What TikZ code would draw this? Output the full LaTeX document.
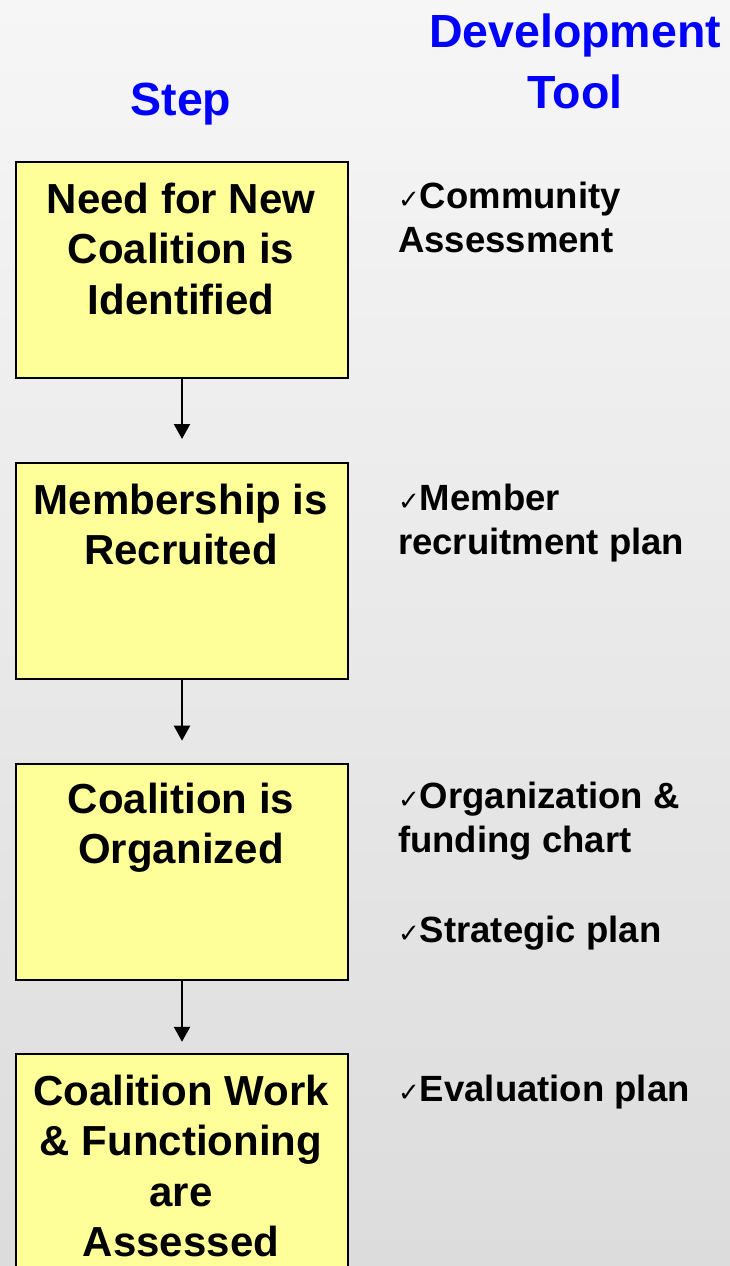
\documentclass[tikz,border=0pt]{standalone}
\usepackage{fontspec}
\setmainfont{Liberation Sans}
\newfontfamily\symfont{DejaVu Sans}
\usetikzlibrary{arrows.meta}
\definecolor{boxyellow}{HTML}{FFFF99}
\definecolor{titleblue}{HTML}{0000FF}
\definecolor{bgtop}{HTML}{F6F6F6}
\definecolor{bgbot}{HTML}{DCDCDC}
\tikzset{
  stepbox/.style={draw=black, line width=2pt, fill=boxyellow, minimum width=332pt, minimum height=216pt, anchor=north west, inner sep=0pt},
  boxtext/.style={anchor=north, align=center, inner sep=0pt, font=\fontsize{42}{50.5}\selectfont\bfseries},
  coltitle/.style={text=titleblue, inner sep=0pt, anchor=base, font=\fontsize{46.5}{57}\selectfont\bfseries},
  tooltext/.style={anchor=north west, align=left, inner sep=0pt, font=\fontsize{36.5}{44}\selectfont\bfseries},
  flow/.style={line width=2.2pt, -{Triangle[width=16pt,length=15pt]}},
}
\newcommand{\tick}{{\symfont\fontsize{26}{26}\selectfont ✓}}
\begin{document}
\begin{tikzpicture}[x=1pt,y=-1pt]
  \useasboundingbox (0,0) rectangle (730,1266);
  \clip (0,0) rectangle (730,1266);
  \shade[top color=bgtop, bottom color=bgbot] (0,0) rectangle (730,1266);

  % column titles
  \node[coltitle] (tstep) at (181,115) {Step};
  \node[coltitle] (tdev) at (575,47) {Development};
  \node[coltitle] (ttool) at (575,108) {Tool};

  % step boxes
  \node[stepbox] (b1) at (15,160.7) {};
  \node[stepbox] (b2) at (15,462) {};
  \node[stepbox] (b3) at (15,762.7) {};
  \node[stepbox, minimum height=260pt] (b4) at (15,1053.3) {};

  \node[boxtext] (s1) at (181,182.5) {Need for New\\Coalition is\\Identified};
  \node[boxtext] (s2) at (181,483.5) {Membership is\\Recruited};
  \node[boxtext] (s3) at (181,782.5) {Coalition is\\Organized};
  \node[boxtext] (s4) at (181,1074.5) {Coalition Work\\\& Functioning\\are\\Assessed};

  % connectors
  \draw[flow, shorten >=23pt] (b1.south) -- (b2.north);
  \draw[flow, shorten >=22pt] (b2.south) -- (b3.north);
  \draw[flow, shorten >=11.5pt] (b3.south) -- (b4.north);

  % development tools
  \node[tooltext] (d1) at (398,181.5) {\tick Community\\Assessment};
  \node[tooltext] (d2) at (398,484) {\tick Member\\recruitment plan};
  \node[tooltext] (d3) at (398,782) {\tick Organization \&\\funding chart};
  \node[tooltext] (d4) at (398,915.5) {\tick Strategic plan};
  \node[tooltext] (d5) at (398,1074.5) {\tick Evaluation plan};
\end{tikzpicture}
\end{document}
